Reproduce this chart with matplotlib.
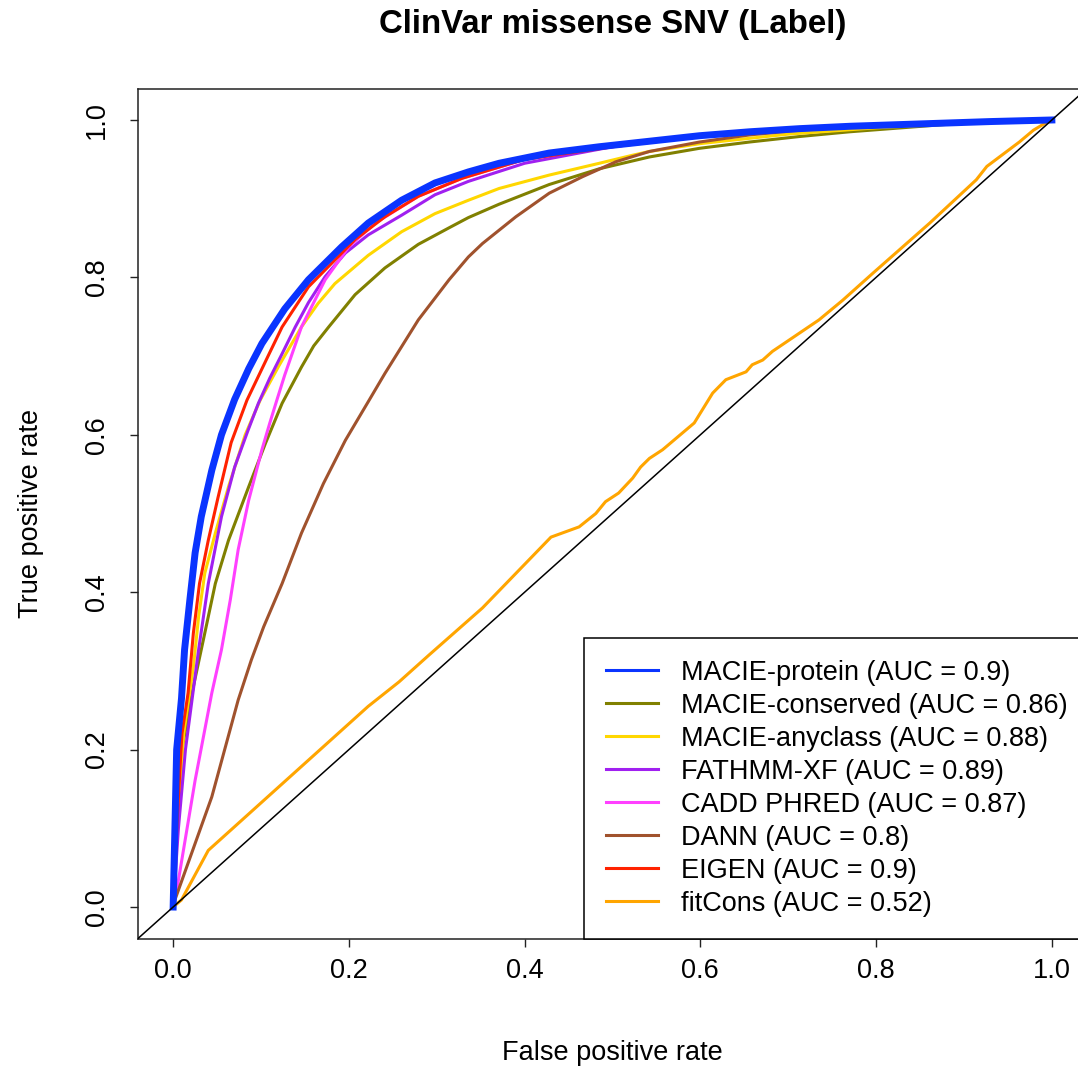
import numpy as np
import matplotlib
matplotlib.use("Agg")
import matplotlib.pyplot as plt

plt.rcParams['font.family'] = ['Liberation Sans', 'DejaVu Sans']

# ROC curves (fpr, tpr)
protein_fpr = [0, 0.002, 0.004, 0.0095, 0.013, 0.019, 0.025, 0.032, 0.044, 0.055, 0.070, 0.086,
               0.101, 0.127, 0.154, 0.192, 0.222, 0.260, 0.298, 0.336, 0.371, 0.428, 0.485, 0.542,
               0.599, 0.656, 0.713, 0.770, 0.85, 0.93, 1.0]
protein_tpr = [0, 0.10, 0.20, 0.265, 0.327, 0.390, 0.450, 0.496, 0.555, 0.600, 0.645, 0.684,
               0.716, 0.760, 0.797, 0.839, 0.869, 0.898, 0.920, 0.934, 0.945, 0.958, 0.966, 0.973,
               0.980, 0.985, 0.989, 0.992, 0.995, 0.998, 1.0]

conserved_fpr = [0, 0.004, 0.010, 0.023, 0.036, 0.048, 0.063, 0.086, 0.105, 0.124, 0.146, 0.160,
                 0.177, 0.207, 0.241, 0.279, 0.314, 0.336, 0.371, 0.428, 0.485, 0.542, 0.599, 0.656,
                 0.713, 0.770, 0.887, 1.0]
conserved_tpr = [0, 0.10, 0.20, 0.280, 0.348, 0.411, 0.466, 0.534, 0.589, 0.640, 0.686, 0.713,
                 0.737, 0.778, 0.812, 0.842, 0.863, 0.876, 0.893, 0.918, 0.938, 0.953, 0.964, 0.972,
                 0.979, 0.985, 0.995, 1.0]

anyclass_fpr = [0, 0.006, 0.012, 0.023, 0.029, 0.036, 0.048, 0.063, 0.082, 0.099, 0.120, 0.146,
                0.165, 0.184, 0.222, 0.260, 0.298, 0.336, 0.371, 0.428, 0.485, 0.522, 0.542, 0.6,
                0.7, 0.8, 0.9, 1.0]
anyclass_tpr = [0, 0.12, 0.22, 0.305, 0.369, 0.424, 0.475, 0.534, 0.600, 0.644, 0.687, 0.737,
                0.767, 0.792, 0.828, 0.858, 0.881, 0.898, 0.913, 0.930, 0.945, 0.955, 0.960, 0.970,
                0.982, 0.990, 0.996, 1.0]

fathmm_fpr = [0, 0.006, 0.014, 0.029, 0.040, 0.055, 0.070, 0.085, 0.097, 0.110, 0.124, 0.139, 0.154,
              0.173, 0.196, 0.222, 0.260, 0.298, 0.336, 0.4, 0.5, 0.6, 0.7, 0.8, 0.9, 1.0]
fathmm_tpr = [0, 0.10, 0.20, 0.327, 0.411, 0.496, 0.559, 0.605, 0.640, 0.672, 0.703, 0.737, 0.768,
              0.801, 0.831, 0.854, 0.879, 0.905, 0.922, 0.945, 0.966, 0.979, 0.988, 0.994, 0.997, 1.0]

cadd_fpr = [0, 0.006, 0.025, 0.044, 0.055, 0.065, 0.074, 0.086, 0.101, 0.110, 0.118, 0.127,
            0.146, 0.173, 0.200, 0.230, 0.279, 0.329, 0.4, 0.5, 0.6, 0.7, 0.8, 0.9, 1.0]
cadd_tpr = [0, 0.034, 0.161, 0.272, 0.327, 0.390, 0.454, 0.517, 0.581, 0.615, 0.644, 0.676,
            0.737, 0.797, 0.839, 0.869, 0.903, 0.926, 0.950, 0.967, 0.980, 0.988, 0.994, 0.997, 1.0]

dann_fpr = [0, 0.002, 0.044, 0.074, 0.089, 0.103, 0.124, 0.146, 0.171, 0.196, 0.222, 0.241, 0.279,
            0.314, 0.336, 0.352, 0.390, 0.428, 0.466, 0.504, 0.542, 0.599, 0.656, 0.713, 0.770,
            0.85, 0.93, 1.0]
dann_tpr = [0, 0.009, 0.140, 0.263, 0.314, 0.356, 0.411, 0.475, 0.538, 0.593, 0.642, 0.678, 0.746,
            0.797, 0.826, 0.843, 0.877, 0.907, 0.928, 0.947, 0.960, 0.972, 0.981, 0.987, 0.991,
            0.995, 0.998, 1.0]

eigen_fpr = [0, 0.005, 0.010, 0.017, 0.023, 0.030, 0.040, 0.051, 0.066, 0.084, 0.108, 0.124,
             0.154, 0.184, 0.207, 0.241, 0.279, 0.329, 0.40, 0.5, 0.6, 0.7, 0.8, 0.9, 1.0]
eigen_tpr = [0, 0.12, 0.22, 0.272, 0.348, 0.411, 0.466, 0.520, 0.590, 0.644, 0.700, 0.737,
             0.788, 0.822, 0.848, 0.877, 0.903, 0.926, 0.950, 0.966, 0.980, 0.988, 0.993, 0.997, 1.0]

fitcons_fpr = [0, 0.0095, 0.040, 0.222, 0.257, 0.291, 0.352, 0.430, 0.462, 0.481, 0.492, 0.507, 0.523,
               0.532, 0.542, 0.557, 0.593, 0.614, 0.629, 0.652, 0.659, 0.671, 0.682, 0.735, 0.762,
               0.796, 0.861, 0.914, 0.926, 0.963, 0.979, 0.994, 1.0]
fitcons_tpr = [0, 0.009, 0.072, 0.255, 0.286, 0.320, 0.380, 0.470, 0.483, 0.500, 0.515, 0.526, 0.545,
               0.559, 0.570, 0.581, 0.615, 0.653, 0.670, 0.680, 0.689, 0.695, 0.706, 0.746, 0.771,
               0.805, 0.869, 0.924, 0.941, 0.972, 0.987, 0.997, 1.0]

labels = ["MACIE-protein (AUC = 0.9)", "MACIE-conserved (AUC = 0.86)", "MACIE-anyclass (AUC = 0.88)",
          "FATHMM-XF (AUC = 0.89)", "CADD PHRED (AUC = 0.87)", "DANN (AUC = 0.8)",
          "EIGEN (AUC = 0.9)", "fitCons (AUC = 0.52)"]
colors = ["#0a34ff", "#808000", "#ffd700", "#a020f0", "#ff40ff", "#a0522d", "#ff2200", "#ffa500"]
curves = [(protein_fpr, protein_tpr), (conserved_fpr, conserved_tpr), (anyclass_fpr, anyclass_tpr),
          (fathmm_fpr, fathmm_tpr), (cadd_fpr, cadd_tpr), (dann_fpr, dann_tpr),
          (eigen_fpr, eigen_tpr), (fitcons_fpr, fitcons_tpr)]

fs = 19.5

fig = plt.figure(figsize=(10.78, 10.72), dpi=100)
# plot region runs past the right edge, like the original
ax = fig.add_axes([138 / 1078, (1072 - 938.5) / 1072, 949 / 1078, 850 / 1072])

for i, ((fx, ty), lab, col) in enumerate(zip(curves, labels, colors)):
    lw = 5 if i == 0 else 2.2
    z = 5 if i == 0 else 3
    ax.plot(fx, ty, color=col, lw=lw, label=lab, zorder=z, solid_joinstyle='round')

ax.axline((0, 0), slope=1, color='black', lw=1.1, zorder=6)

ax.set_xlim(-0.04, 1.04)
ax.set_ylim(-0.04, 1.04)
ticks = [0.0, 0.2, 0.4, 0.6, 0.8, 1.0]
ax.set_xticks(ticks)
ax.set_yticks(ticks)
ax.set_xticklabels(["%.1f" % t for t in ticks], fontsize=fs)
ax.set_yticklabels(["%.1f" % t for t in ticks], fontsize=fs, rotation=90, va='center')
ax.tick_params(axis='both', direction='out', length=6, width=1, color='#222222')
ax.tick_params(axis='x', pad=8)
ax.tick_params(axis='y', pad=14)
for s in ax.spines.values():
    s.set_linewidth(1.1)
    s.set_color('#222222')

ax.set_xlabel("False positive rate", fontsize=fs)
ax.xaxis.set_label_coords(0.5, (938.5 - 1053) / 850)
ax.xaxis.label.set_va('center')
ax.set_ylabel("True positive rate", fontsize=fs)
ax.yaxis.set_label_coords((31 - 138) / 949, 0.5)
ax.yaxis.label.set_va('center')

fig.text(612.5 / 1078, 1 - 24 / 1072, "ClinVar missense SNV (Label)", fontsize=23.8,
         fontweight='bold', ha='center', va='center')

leg = ax.legend(loc='lower left', bbox_to_anchor=((584 - 138) / 949, 0), borderaxespad=0,
                fontsize=fs, frameon=True, fancybox=False, handlelength=1.93,
                handletextpad=0.85, labelspacing=0.26, borderpad=0.8)
leg.get_frame().set_edgecolor('black')
leg.get_frame().set_linewidth(1.1)
leg.get_frame().set_alpha(1)
for ln in leg.get_lines():
    ln.set_linewidth(2.2)

fig.savefig("out.png", dpi=100)
